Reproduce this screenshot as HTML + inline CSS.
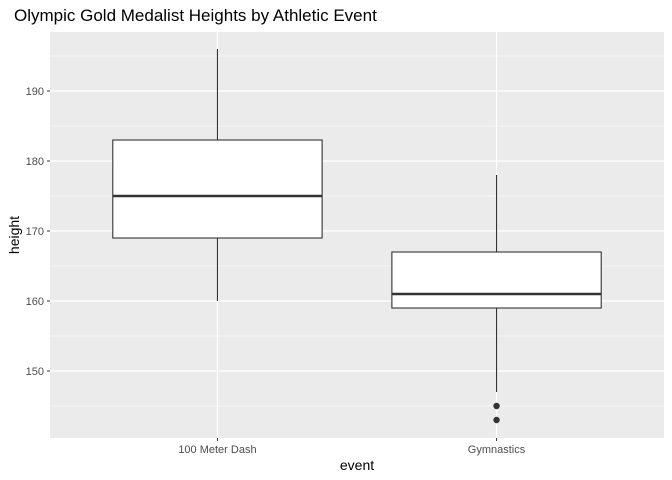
<!DOCTYPE html>
<html><head><meta charset="utf-8"><style>
body{margin:0;background:#fff;}
svg{display:block;font-family:"Liberation Sans",sans-serif;}
</style></head><body>
<svg id="c" width="672" height="480"></svg>
<script>
const categories=["100 Meter Dash","Gymnastics"];
const lowerWhisker=[160,147];
const q1=[169,159];
const medians=[175,161];
const q3=[183,167];
const upperWhisker=[196,178];
const outliers=[[],[145,143]];
const yTicks=[150,160,170,180,190];
const yMinor=[145,155,165,175,185,195];

const svg=document.getElementById('c');
const NS='http://www.w3.org/2000/svg';
const L=50,R=664,T=32,B=438;
const yMin=140.43,yMax=198.43;
const y=v=>B-(v-yMin)/(yMax-yMin)*(B-T);
const step=(R-L)/(categories.length-1+1.2);
const x=i=>L+step*(0.6+i);
function mk(tag,attrs,name,parent){const e=document.createElementNS(NS,tag);for(const k in attrs)e.setAttribute(k,attrs[k]);


(parent||svg).appendChild(e);return e;}
mk('rect',{x:L,y:T,width:R-L,height:B-T,fill:'#ebebeb'},'panel-background');
yMinor.forEach(v=>mk('line',{x1:L,x2:R,y1:y(v),y2:y(v),stroke:'#fff','stroke-width':0.6},'minor-gridline'));
yTicks.forEach(v=>mk('line',{x1:L,x2:R,y1:y(v),y2:y(v),stroke:'#fff','stroke-width':1.2},'major-gridline'));
categories.forEach((c,i)=>mk('line',{x1:x(i),x2:x(i),y1:T,y2:B,stroke:'#fff','stroke-width':1.2},'x-gridline'));
const bw=step*0.75;
categories.forEach((c,i)=>{
 const g=mk('g',{},'box-'+c.toLowerCase().replace(/ /g,'-'));
 mk('line',{x1:x(i),x2:x(i),y1:y(upperWhisker[i]),y2:y(q3[i]),stroke:'#333','stroke-width':1.1},'upper-whisker',g);
 mk('line',{x1:x(i),x2:x(i),y1:y(q1[i]),y2:y(lowerWhisker[i]),stroke:'#333','stroke-width':1.1},'lower-whisker',g);
 mk('rect',{x:x(i)-bw/2,y:y(q3[i]),width:bw,height:y(q1[i])-y(q3[i]),fill:'#fff',stroke:'#333','stroke-width':1.1},'box-body',g);
 mk('line',{x1:x(i)-bw/2,x2:x(i)+bw/2,y1:y(medians[i]),y2:y(medians[i]),stroke:'#333','stroke-width':2.5},'median-line',g);
 outliers[i].forEach(v=>mk('circle',{cx:x(i),cy:y(v),r:3.2,fill:'#333'},'outlier-point',g));
});
yTicks.forEach(v=>{
 mk('line',{x1:L-3,x2:L,y1:y(v),y2:y(v),stroke:'#333','stroke-width':1},'y-tick');
 const t=mk('text',{x:L-6,y:y(v)+4,'text-anchor':'end','font-size':11,fill:'#4d4d4d'},'y-tick-label');t.textContent=v;
});
categories.forEach((c,i)=>{
 mk('line',{x1:x(i),x2:x(i),y1:B,y2:B+3,stroke:'#333','stroke-width':1},'x-tick');
 const t=mk('text',{x:x(i),y:B+15,'text-anchor':'middle','font-size':11,fill:'#4d4d4d'},'x-tick-label');t.textContent=c;
});
let t=mk('text',{x:(L+R)/2,y:470,'text-anchor':'middle','font-size':14,fill:'#000'},'x-axis-title');t.textContent='event';
t=mk('text',{x:0,y:0,transform:`translate(19,${(T+B)/2}) rotate(-90)`,'text-anchor':'middle','font-size':14,fill:'#000'},'y-axis-title');t.textContent='height';
t=mk('text',{x:14,y:21,'font-size':17,fill:'#000'},'chart-title');t.textContent='Olympic Gold Medalist Heights by Athletic Event';
</script>
</body></html>
